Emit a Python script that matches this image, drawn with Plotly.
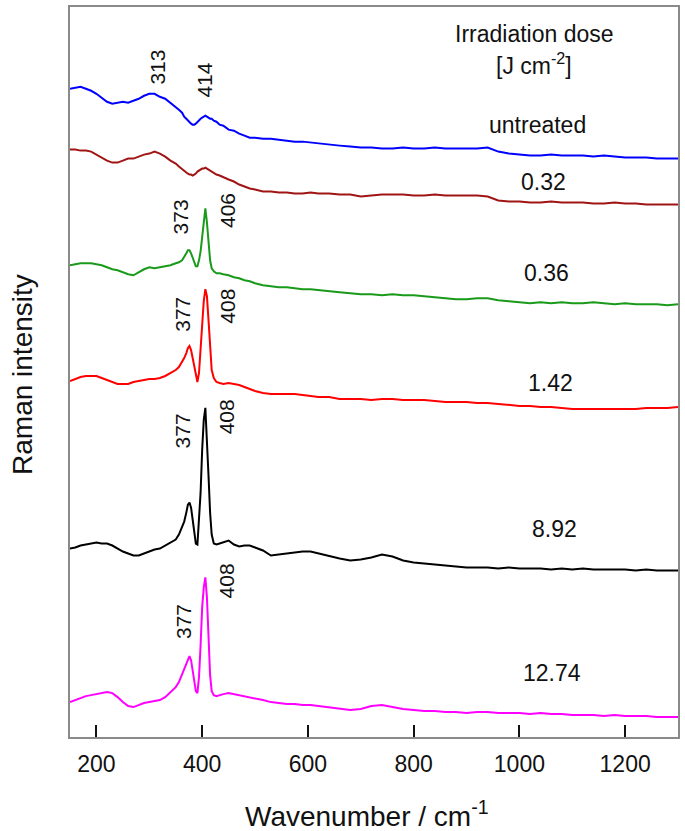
import plotly.graph_objects as go

# Wavenumber grid (cm^-1)
wavenumber = [150,160,170,180,190,200,210,220,230,240,250,260,270,280,290,300,310,320,330,340,350,
              356,362,366,370,373,376,379,382,385,388,391,394,397,400,403,406,409,412,415,418,422,427,433,
              440,450,460,470,480,490,500,515,530,545,560,575,590,605,620,
              640,660,680,700,720,740,760,780,800,820,840,860,880,900,920,940,960,980,1000,
              1020,1040,1060,1080,1100,1120,1140,1160,1180,1200,1220,1240,1260,1280,1300]

# Stacked (offset) Raman intensities, arbitrary units
untreated = [650,651,652,650,648,645,641,637,635,636,637,636,638,640,643,645,645,642,640,636,632,
             629,626,622,620,618,617,615,614,614,615,617,619,620,621,622,623,622,621,620,620,618,617,614,
             613,609,608,605,603,601,601,600,600,599,598,597,597,596,595,
             594,593,592,591,591,590,590,591,590,590,591,590,590,590,590,591,587,585,584,
             583,583,584,583,583,583,582,583,582,581,581,581,580,580,580]
dose_032 = [589,589,588,588,587,584,581,578,576,576,578,580,580,582,584,585,587,585,582,578,575,
            572,569,568,566,565,564,564,563,564,565,567,568,569,570,570,571,570,569,568,567,565,564,563,
            561,559,557,554,552,550,549,547,547,546,546,545,545,546,545,
            545,544,544,542,543,544,544,544,543,543,544,543,543,543,543,542,538,537,537,
            536,536,537,536,536,536,535,535,536,535,535,534,534,534,534]
dose_036 = [473,474,475,475,475,474,473,471,469,468,466,464,463,466,469,471,470,471,472,473,475,
            476,478,481,485,488,488,485,481,476,472,472,478,487,503,520,530,516,494,478,470,467,465,465,
            464,463,461,460,458,457,455,453,452,451,451,450,449,449,448,
            447,446,445,444,444,443,444,443,443,442,441,440,439,439,440,440,438,437,436,
            435,436,435,436,435,435,436,435,434,435,434,434,434,433,434]
dose_142 = [357,359,361,362,362,362,360,358,356,354,354,354,356,357,358,359,359,360,362,365,368,
            371,376,380,385,390,392,388,380,371,362,356,365,390,418,437,449,442,418,388,368,360,356,355,
            354,355,354,353,351,349,347,345,344,344,344,344,343,342,341,
            341,339,339,339,338,339,339,338,338,338,337,336,336,336,335,335,334,333,332,
            332,331,331,330,329,329,329,329,329,329,329,330,330,330,331]
dose_892 = [189,190,192,193,194,195,194,194,192,189,186,184,182,182,184,186,188,189,192,195,198,
            203,210,216,225,233,235,230,218,204,194,193,215,245,288,318,330,300,262,225,203,194,193,194,
            195,197,193,191,192,192,190,187,182,183,184,185,186,186,184,
            182,179,177,178,180,183,181,177,175,174,173,172,171,170,170,170,169,170,169,
            169,169,168,169,168,169,168,168,168,168,167,168,167,167,167]
dose_1274 = [35,37,39,41,42,43,44,45,44,40,35,31,30,32,34,35,36,37,40,45,50,
             55,63,68,74,79,81,77,66,55,46,44,60,92,130,150,160,140,100,62,46,42,41,42,
             43,44,43,42,41,40,39,37,35,34,33,33,32,32,31,
             30,28,27,28,31,32,30,28,27,26,26,25,25,24,25,25,24,24,24,
             23,24,23,23,22,22,22,21,22,21,21,21,20,20,20]

series = [untreated, dose_032, dose_036, dose_142, dose_892, dose_1274]
series_names = ["untreated", "0.32", "0.36", "1.42", "8.92", "12.74"]
series_colors = ["#0000FF", "#A01414", "#1A9A1A", "#FF0000", "#000000", "#FF00FF"]

# Peak labels: (text, wavenumber position, intensity position)
peak_text = ["313", "414", "373", "406", "377", "408", "377", "408", "377", "408"]
peak_x = [316, 405, 358, 448, 363, 448, 363, 446, 365, 445]
peak_y = [672, 659, 522, 528, 424, 432, 307, 321, 116, 157]

# Dose labels
dose_text = ["Irradiation dose", "[J cm<sup>-2</sup>]", "untreated", "0.32", "0.36", "1.42", "8.92", "12.74"]
dose_x = [1028, 1028, 1034, 1045, 1052, 1058, 1066, 1062]
dose_y = [705, 675, 614, 557, 465, 355, 209, 64]

FONT = "Liberation Sans, Arial, sans-serif"

fig = go.Figure()
for ys, nm, col in zip(series, series_names, series_colors):
    fig.add_trace(go.Scatter(x=wavenumber, y=ys, mode="lines", name=nm,
                             line=dict(color=col, width=2), showlegend=False))

annotations = []
for t, x, y in zip(peak_text, peak_x, peak_y):
    annotations.append(dict(x=x, y=y, xref="x", yref="y", text=t, showarrow=False,
                            textangle=-90, font=dict(family=FONT, size=21, color="#111")))
for t, x, y in zip(dose_text, dose_x, dose_y):
    annotations.append(dict(x=x, y=y, xref="x", yref="y", text=t, showarrow=False,
                            font=dict(family=FONT, size=23, color="#111")))
annotations.append(dict(x=0.4885, y=-0.106, xref="paper", yref="paper",
                        xanchor="center", yanchor="middle",
                        text="Wavenumber / cm<sup>-1</sup>", showarrow=False,
                        font=dict(family=FONT, size=28, color="#111")))
annotations.append(dict(x=-0.0772, y=0.496, xref="paper", yref="paper",
                        xanchor="center", yanchor="middle",
                        text="Raman intensity", showarrow=False, textangle=-90,
                        font=dict(family=FONT, size=28, color="#111")))

fig.update_layout(
    width=685, height=831,
    margin=dict(l=70, r=6, t=5, b=94),
    paper_bgcolor="white", plot_bgcolor="white",
    annotations=annotations,
    xaxis=dict(range=[150, 1300], tickvals=[200, 400, 600, 800, 1000, 1200],
               ticks="inside", ticklen=12, tickwidth=1.5, tickcolor="#111",
               ticklabelstandoff=6,
               showline=True, linecolor="#8a8a8a", linewidth=1.5, mirror=True,
               showgrid=False, zeroline=False,
               tickfont=dict(family=FONT, size=23, color="#111")),
    yaxis=dict(range=[0, 732], showticklabels=False, ticks="",
               showline=True, linecolor="#8a8a8a", linewidth=1.5, mirror=True,
               showgrid=False, zeroline=False),
)

fig.write_html("out.html", config={"displayModeBar": False},
               post_script="document.body.style.margin='0px';")
